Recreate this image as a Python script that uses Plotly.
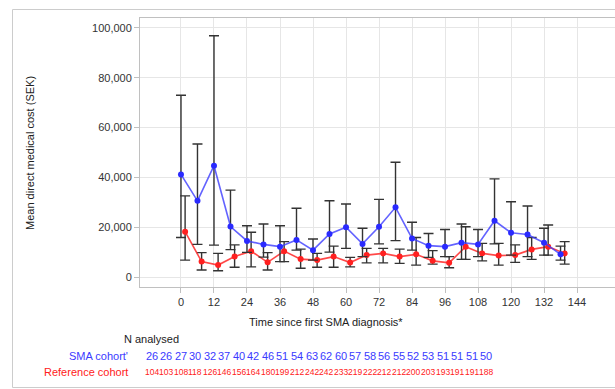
import plotly.graph_objects as go

months = [0, 6, 12, 18, 24, 30, 36, 42, 48, 54, 60, 66, 72, 78, 84, 90, 96, 102, 108, 114, 120, 126, 132, 138]
ref_offset = 1.5  # reference cohort drawn slightly to the right

sma_mean = [41200, 30600, 44700, 20300, 14500, 13100, 12200, 14900, 10800, 17300, 20000, 13300,
            20200, 28000, 15500, 12600, 12200, 13800, 13100, 22600, 17800, 17100, 13800, 9100]
sma_upper = [73000, 53400, 96900, 34900, 20600, 21300, 20600, 27600, 15300, 30600, 29300, 19600,
             31200, 46100, 22000, 17500, 19100, 21300, 19100, 39400, 30200, 28500, 19600, 12400]
sma_lower = [15900, 13100, 12800, 11000, 9900, 8000, 6200, 10800, 6800, 10000, 11500, 8200,
             13300, 14600, 10800, 7900, 8200, 7100, 8200, 13300, 8800, 8200, 8800, 6800]

ref_mean = [18200, 6200, 4800, 8200, 10400, 5900, 10400, 7200, 6800, 8200, 5800, 8800,
            9500, 8200, 9100, 6500, 5700, 12200, 9500, 8600, 8800, 11100, 12200, 9500]
ref_upper = [32600, 9800, 9500, 12900, 18000, 9800, 14200, 11200, 9500, 12400, 7900, 11500,
             11500, 11200, 15900, 10600, 8200, 20200, 13500, 13500, 12900, 15900, 20900, 14200]
ref_lower = [6800, 2800, 2500, 3900, 4100, 2800, 6200, 3500, 3900, 3900, 4100, 5700,
             5700, 5500, 4800, 5200, 3700, 7100, 6500, 4800, 5900, 7100, 8800, 5200]

n_sma = [26, 26, 27, 30, 32, 37, 40, 42, 46, 51, 54, 63, 62, 60, 57, 58, 56, 55, 52, 53, 51, 51, 51, 50]
n_ref = [104, 103, 108, 118, 126, 146, 156, 164, 180, 199, 212, 242, 242, 233, 219, 222, 212, 212,
         200, 203, 193, 191, 191, 188]

x_ticks = [0, 12, 24, 36, 48, 60, 72, 84, 96, 108, 120, 132, 144]
y_ticks = [0, 20000, 40000, 60000, 80000, 100000]

W, H = 615, 389
L, R, T, B = 140, 0, 18, 102
pw, ph = W - L - R, H - T - B

def px(xp):
    return (xp - L) / pw

def py(yp):
    return (H - B - yp) / ph

err_style = dict(type="data", color="#333333", thickness=1.4, width=5, visible=True)

fig = go.Figure()
fig.add_trace(go.Scatter(
    x=[m + ref_offset for m in months], y=ref_mean, mode="lines+markers",
    line=dict(color="rgba(255,40,40,0.85)", width=1.6),
    marker=dict(color="#ff2020", size=6),
    error_y=dict(array=[u - m for u, m in zip(ref_upper, ref_mean)],
                 arrayminus=[m - l for m, l in zip(ref_mean, ref_lower)], symmetric=False, **err_style),
    showlegend=False, hoverinfo="skip"))
fig.add_trace(go.Scatter(
    x=months, y=sma_mean, mode="lines+markers",
    line=dict(color="rgba(60,60,255,0.8)", width=1.6),
    marker=dict(color="#2a2aff", size=6),
    error_y=dict(array=[u - m for u, m in zip(sma_upper, sma_mean)],
                 arrayminus=[m - l for m, l in zip(sma_mean, sma_lower)], symmetric=False, **err_style),
    showlegend=False, hoverinfo="skip"))

FAM = "Liberation Sans, Arial, sans-serif"
axis_font = dict(family=FAM, size=11, color="#333333")

fig.update_xaxes(range=[-14.9, 157.8], tickvals=x_ticks, ticktext=[str(v) for v in x_ticks],
                 showgrid=True, gridcolor="#e6e6e6", gridwidth=1, zeroline=False,
                 showline=True, linecolor="#c0c0c0", linewidth=1, mirror=True,
                 ticks="outside", ticklen=5, tickcolor="#c0c0c0", tickfont=axis_font)
fig.update_yaxes(range=[-4000, 104000], tickvals=y_ticks, tickformat=",d",
                 showgrid=True, gridcolor="#e6e6e6", gridwidth=1, zeroline=False,
                 showline=True, linecolor="#c0c0c0", linewidth=1,
                 ticks="outside", ticklen=5, tickcolor="#c0c0c0", tickfont=axis_font)

annotations = [
    dict(text="Mean direct medical cost (SEK)", x=px(30), y=py(153), textangle=-90,
         font=dict(family=FAM, size=11, color="#222222")),
    dict(text="Time since first SMA diagnosis*", x=px(326), y=py(322),
         font=dict(family=FAM, size=11, color="#222222")),
    dict(text="N analysed", x=px(122), y=py(339), xanchor="left",
         font=dict(family=FAM, size=11, color="#222222")),
    dict(text="SMA cohort'", x=px(130), y=py(356), xanchor="right",
         font=dict(family=FAM, size=11, color="#3a3aff")),
    dict(text="Reference cohort", x=px(130), y=py(372), xanchor="right",
         font=dict(family=FAM, size=11, color="#ff2020")),
]
for i, (a, b) in enumerate(zip(n_sma, n_ref)):
    cx = 151.5 + i * 14.55
    annotations.append(dict(text=str(a), x=px(cx), y=py(356),
                            font=dict(family=FAM, size=11, color="#3a3aff")))
    annotations.append(dict(text=str(b), x=px(cx), y=py(372),
                            font=dict(family=FAM, size=8.5, color="#ff2020")))
for a in annotations:
    a.update(xref="paper", yref="paper", showarrow=False)
    a.setdefault("xanchor", "center")
    a.setdefault("yanchor", "middle")

fig.update_layout(
    width=W, height=H, margin=dict(l=L, r=R, t=T, b=B),
    paper_bgcolor="white", plot_bgcolor="white",
    annotations=annotations,
    shapes=[dict(type="rect", xref="paper", yref="paper",
                 x0=px(12.5), x1=px(640), y0=py(387.5), y1=py(9.5),
                 line=dict(color="#cccccc", width=1), layer="below")],
)

fig.write_html("out.html")
